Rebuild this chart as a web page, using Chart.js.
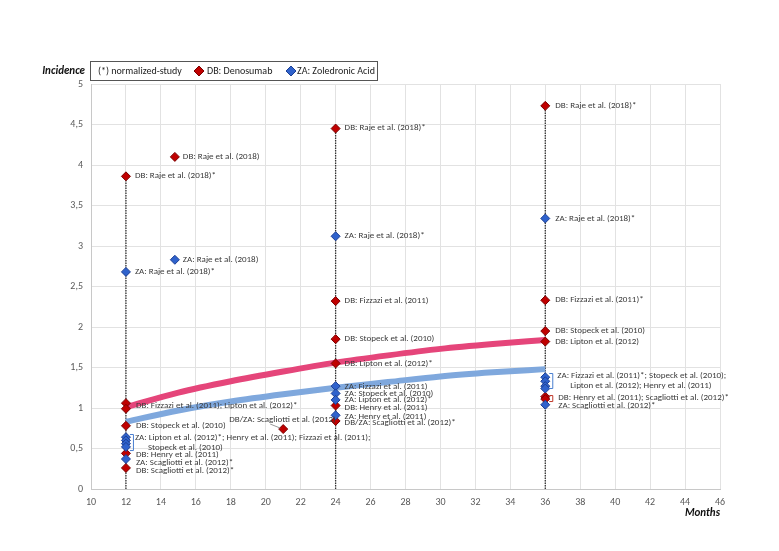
<!DOCTYPE html>
<html>
<head>
<meta charset="utf-8">
<script src="https://cdn.jsdelivr.net/npm/chart.js@4.4.0/dist/chart.umd.min.js"></script>
<style>
html, body { margin: 0; padding: 0; background: #fff; }
</style>
</head>
<body>
<canvas id="myChart" width="779" height="551"></canvas>
<script>
var FONT = 'Carlito, Lato, sans-serif';

// DB: Denosumab study points (months, incidence)
var dbMonths    = [12, 12, 12, 12, 12, 12, 14.8, 21, 24, 24, 24, 24, 24, 24, 36, 36, 36, 36, 36, 36];
var dbIncidence = [3.86, 1.06, 0.99, 0.78, 0.44, 0.26, 4.10, 0.74, 4.45, 2.32, 1.85, 1.55, 1.03, 0.84, 4.73, 2.33, 1.95, 1.82, 1.14, 1.11];

// ZA: Zoledronic acid study points
var zaMonths    = [12, 12, 12, 12, 12, 12, 14.8, 24, 24, 24, 24, 24, 36, 36, 36, 36, 36, 36];
var zaIncidence = [2.68, 0.64, 0.60, 0.56, 0.52, 0.37, 2.83, 3.12, 1.27, 1.18, 1.10, 0.91, 3.34, 1.38, 1.33, 1.27, 1.24, 1.04];

// trend curves
var trendMonths = [12, 15, 18, 21, 24, 27, 30, 33, 36];
var dbTrend = [1.01, 1.19, 1.33, 1.45, 1.56, 1.65, 1.73, 1.79, 1.84];
var zaTrend = [0.83, 0.97, 1.08, 1.17, 1.25, 1.32, 1.39, 1.44, 1.48];

// vertical dotted lines at the follow-up times
var dropMonths = [12, 24, 36];
var dropTop = [3.86, 4.45, 4.73];

// study labels: text, column, incidence level, pixel shift from the column
var labels = [
    ['DB: Raje et al. (2018)*', 12, 3.864, 9],
    ['ZA: Raje et al. (2018)*', 12, 2.679, 9],
    ['DB: Fizzazi et al. (2011); Lipton et al. (2012)*', 12, 1.025, 10],
    ['DB: Stopeck et al. (2010)', 12, 0.778, 10],
    ['ZA: Lipton et al. (2012)*; Henry et al. (2011); Fizzazi et al. (2011);', 12, 0.63, 9],
    ['Stopeck et al. (2010)', 12, 0.506, 22],
    ['DB: Henry et al. (2011)', 12, 0.42, 10],
    ['ZA: Scagliotti et al. (2012)*', 12, 0.32, 10],
    ['DB: Scagliotti et al. (2012)*', 12, 0.222, 10],
    ['DB: Raje et al. (2018)', 14.8, 4.10, 8],
    ['ZA: Raje et al. (2018)', 14.8, 2.83, 8],
    ['DB/ZA: Scagliotti et al. (2012)', 21, 0.852, -54],
    ['DB: Raje et al. (2018)*', 24, 4.457, 9],
    ['ZA: Raje et al. (2018)*', 24, 3.123, 9],
    ['DB: Fizzazi et al. (2011)', 24, 2.321, 9],
    ['DB: Stopeck et al. (2010)', 24, 1.852, 9],
    ['DB: Lipton et al. (2012)*', 24, 1.543, 9],
    ['ZA: Fizzazi et al. (2011)', 24, 1.259, 9],
    ['ZA: Stopeck et al. (2010)', 24, 1.173, 9],
    ['ZA: Lipton et al. (2012)*', 24, 1.099, 9],
    ['DB: Henry et al. (2011)', 24, 1.0, 9],
    ['ZA: Henry et al. (2011)', 24, 0.889, 9],
    ['DB/ZA: Scagliotti et al. (2012)*', 24, 0.815, 9],
    ['DB: Raje et al. (2018)*', 36, 4.728, 10],
    ['ZA: Raje et al. (2018)*', 36, 3.333, 10],
    ['DB: Fizzazi et al. (2011)*', 36, 2.333, 10],
    ['DB: Stopeck et al. (2010)', 36, 1.951, 10],
    ['DB: Lipton et al. (2012)', 36, 1.821, 10],
    ['ZA: Fizzazi et al. (2011)*; Stopeck et al. (2010);', 36, 1.395, 12],
    ['Lipton et al. (2012); Henry et al. (2011)', 36, 1.272, 25],
    ['DB: Henry et al. (2011); Scagliotti et al. (2012)*', 36, 1.123, 13],
    ['ZA: Scagliotti et al. (2012)*', 36, 1.025, 13]
];

// brackets grouping stacked points: column, from, to, colour
var brackets = [
    [12, 0.679, 0.481, '#4a7fd0'],
    [36, 1.432, 1.247, '#4a7fd0'],
    [36, 1.16, 1.086, '#c0392b']
];

function pts(xs, ys) {
    return xs.map(function (x, i) { return {x: x, y: ys[i]}; });
}

var datasets = [
    {
        label: 'DB: Denosumab', data: pts(dbMonths, dbIncidence), showLine: false,
        pointStyle: 'rectRot', pointRadius: 4.5, backgroundColor: '#c00000', borderColor: '#7a0000',
        borderWidth: 1, order: 1
    },
    {
        label: 'ZA: Zoledronic Acid', data: pts(zaMonths, zaIncidence), showLine: false,
        pointStyle: 'rectRot', pointRadius: 4.5, backgroundColor: '#2f62cc', borderColor: '#1c3f94',
        borderWidth: 1, order: 0
    },
    {
        data: pts(trendMonths, dbTrend), showLine: true, borderColor: '#e5457a', borderWidth: 6,
        pointRadius: 0, cubicInterpolationMode: 'monotone', borderCapStyle: 'butt', order: 2
    },
    {
        data: pts(trendMonths, zaTrend), showLine: true, borderColor: '#7fa8dd', borderWidth: 6,
        pointRadius: 0, cubicInterpolationMode: 'monotone', borderCapStyle: 'butt', order: 2
    }
];
dropMonths.forEach(function (m, i) {
    datasets.push({
        data: [{x: m, y: 0}, {x: m, y: dropTop[i]}], showLine: true, borderColor: '#333',
        borderWidth: 1.3, borderDash: [1.5, 1], pointRadius: 0, order: 3
    });
});

var decorations = {
    id: 'decorations',
    afterDatasetsDraw: function (chart) {
        var ctx = chart.ctx, xs = chart.scales.x, ys = chart.scales.y;
        ctx.save();
        // brackets
        ctx.lineWidth = 1;
        brackets.forEach(function (b) {
            var px = xs.getPixelForValue(b[0]);
            var y1 = ys.getPixelForValue(b[1]), y2 = ys.getPixelForValue(b[2]);
            ctx.strokeStyle = b[3];
            ctx.beginPath();
            ctx.moveTo(px + 4, y1 + 0.5);
            ctx.lineTo(px + 7.5, y1 + 0.5);
            ctx.lineTo(px + 7.5, y2 + 0.5);
            ctx.lineTo(px + 4, y2 + 0.5);
            ctx.stroke();
        });
        // leader for the 21-month point
        ctx.strokeStyle = '#999';
        ctx.beginPath();
        var lx = xs.getPixelForValue(21), ly = ys.getPixelForValue(0.74);
        ctx.moveTo(lx - 13, ly - 5);
        ctx.lineTo(lx - 3, ly - 1);
        ctx.stroke();
        // labels
        ctx.fillStyle = '#3a3a3a';
        ctx.font = '9px ' + FONT;
        ctx.textBaseline = 'middle';
        ctx.textAlign = 'left';
        labels.forEach(function (l) {
            ctx.fillText(l[0], xs.getPixelForValue(l[1]) + l[3], ys.getPixelForValue(l[2]));
        });
        ctx.restore();
    },
    afterDraw: function (chart) {
        var ctx = chart.ctx, area = chart.chartArea;
        ctx.save();
        ctx.fillStyle = '#111';
        ctx.font = 'italic bold 11px ' + FONT;
        ctx.textBaseline = 'middle';
        ctx.textAlign = 'right';
        ctx.fillText('Incidence', area.left - 6, 71);
        ctx.fillText('Months', area.right, area.bottom + 24);
        // legend box
        ctx.strokeStyle = '#555';
        ctx.lineWidth = 1;
        ctx.strokeRect(area.left - 0.5, 61.5, 287, 19);
        ctx.font = '10px ' + FONT;
        ctx.textAlign = 'left';
        ctx.fillStyle = '#222';
        ctx.fillText('(*) normalized-study', area.left + 7, 71);
        function diamond(x, y, fill, stroke) {
            ctx.beginPath();
            ctx.moveTo(x, y - 5); ctx.lineTo(x + 5, y); ctx.lineTo(x, y + 5); ctx.lineTo(x - 5, y);
            ctx.closePath();
            ctx.fillStyle = fill; ctx.fill();
            ctx.strokeStyle = stroke; ctx.stroke();
        }
        diamond(area.left + 108, 71, '#c00000', '#7a0000');
        ctx.fillStyle = '#222';
        ctx.fillText('DB: Denosumab', area.left + 116, 71);
        diamond(area.left + 200, 71, '#2f62cc', '#1c3f94');
        ctx.fillStyle = '#222';
        ctx.fillText('ZA: Zoledronic Acid', area.left + 206, 71);
        ctx.restore();
    }
};

var ctx = document.getElementById('myChart').getContext('2d');
var myChart = new Chart(ctx, {
    type: 'scatter',
    data: { datasets: datasets },
    options: {
        responsive: false,
        animation: false,
        layout: { padding: { left: 51, right: 59, top: 84, bottom: 32 } },
        plugins: { legend: { display: false }, tooltip: { enabled: false } },
        scales: {
            x: {
                type: 'linear', min: 10, max: 46,
                afterFit: function (s) { s.height = 30; },
                ticks: { stepSize: 2, padding: 7, color: '#595959', font: { family: FONT, size: 10 } },
                grid: { color: '#e2e2e2', drawTicks: false },
                border: { color: '#c8c8c8' }
            },
            y: {
                min: 0, max: 5,
                afterFit: function (s) { s.width = 40; },
                ticks: {
                    stepSize: 0.5, padding: 8, color: '#595959', font: { family: FONT, size: 10 },
                    callback: function (v) { return String(v).replace('.', ','); }
                },
                grid: { color: '#e2e2e2', drawTicks: false },
                border: { color: '#c8c8c8' }
            }
        }
    },
    plugins: [decorations]
});
</script>
</body>
</html>
